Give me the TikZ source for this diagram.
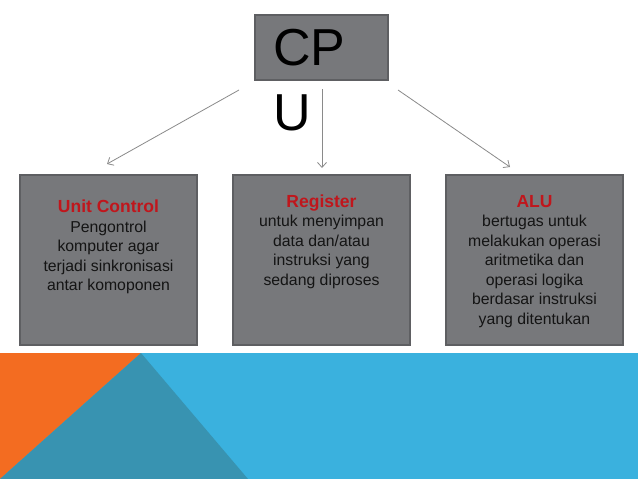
\documentclass[tikz,border=0pt]{standalone}
\usepackage{fontspec}
\setmainfont{Liberation Sans}
\usetikzlibrary{arrows.meta}
\definecolor{boxgray}{HTML}{77787B}
\definecolor{boxedge}{HTML}{5E5F62}
\definecolor{titlered}{HTML}{C0161C}
\definecolor{arrowgray}{HTML}{8A8A8A}
\definecolor{bandblue}{HTML}{3AB1DE}
\definecolor{bandorange}{HTML}{F36C21}
\definecolor{bandteal}{HTML}{3893B1}
\newcommand{\boxtitle}[1]{{\color{titlered}\fontsize{17.5}{19.5}\selectfont\bfseries #1}}
\begin{document}
\begin{tikzpicture}[x=1pt,y=-1pt,
  graybox/.style={draw=boxedge,line width=1.2pt,fill=boxgray,inner sep=0pt,outer sep=0pt,anchor=north west},
  boxtext/.style={anchor=base,align=center,font=\fontsize{15.8}{19.5}\selectfont,text=black!92,inner sep=0pt},
  conn/.style={draw=arrowgray,line width=0.8pt,-{Straight Barb[length=5pt,width=9pt]}},
  bigtext/.style={anchor=base west,font=\fontsize{52}{65}\selectfont,inner sep=0pt}]
\useasboundingbox (0,0) rectangle (638,479);
\fill[white] (0,0) rectangle (638,479);
% bottom band
\fill[bandblue] (0,353) rectangle (638,479);
\fill[bandorange] (0,353) -- (141,353) -- (0,479) -- cycle;
\fill[bandteal] (141,353) -- (248,479) -- (0,479) -- cycle;
% CPU
\node[graybox,minimum width=133pt,minimum height=65pt] (cpu) at (255,15) {};
\node[bigtext] (cp) at (273,65) {CP};
\node[bigtext] (u) at (273,130) {U};
% boxes
\node[graybox,minimum width=177pt,minimum height=170pt] (uc) at (20,175) {};
\node[graybox,minimum width=177pt,minimum height=170pt] (reg) at (233,175) {};
\node[graybox,minimum width=177pt,minimum height=170pt] (alu) at (446,175) {};
% (base anchor = baseline of the last line)
\node[boxtext] (uct) at (108.5,290.7) {\boxtitle{Unit Control}\\Pengontrol\\komputer agar\\terjadi sinkronisasi\\antar komoponen};
\node[boxtext] (regt) at (321.5,285) {\boxtitle{Register}\\untuk menyimpan\\data dan/atau\\instruksi yang\\sedang diproses};
\node[boxtext] (alut) at (534.5,324) {\boxtitle{ALU}\\bertugas untuk\\melakukan operasi\\aritmetika dan\\operasi logika\\berdasar instruksi\\yang ditentukan};
% connectors
\coordinate (s1) at (239,90);
\coordinate (t1) at (107,164);
\coordinate (s2) at (322,89);
\coordinate (t2) at (322,168);
\coordinate (s3) at (398,90);
\coordinate (t3) at (510,167);
\draw[conn] (s1) -- (t1);
\draw[conn] (s2) -- (t2);
\draw[conn] (s3) -- (t3);
\end{tikzpicture}
\end{document}
